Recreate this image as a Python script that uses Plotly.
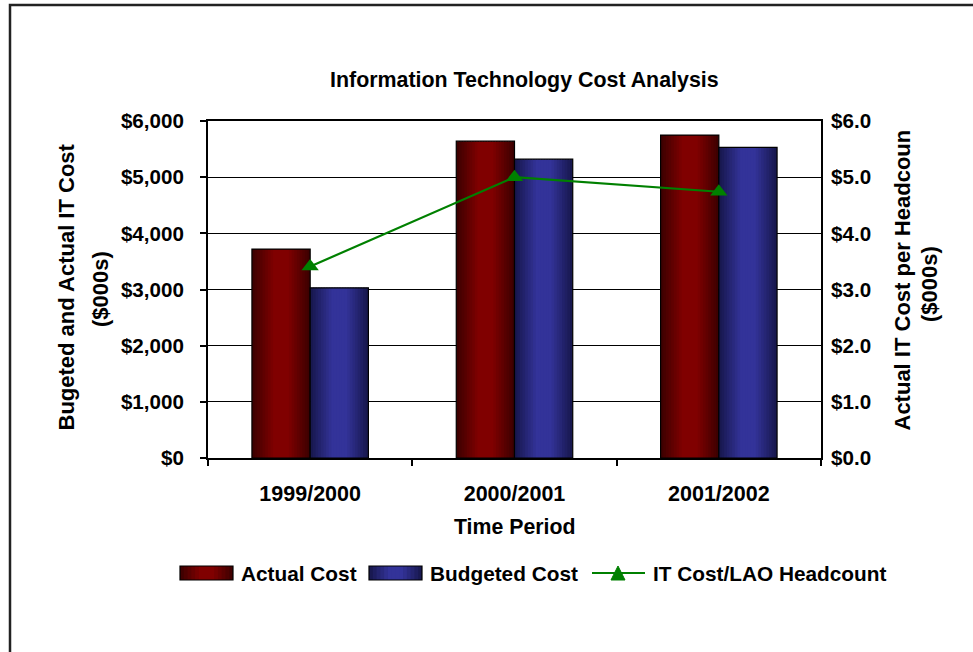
import plotly.graph_objects as go

# ---- data ----
periods = ["1999/2000", "2000/2001", "2001/2002"]
actual_cost = [3720, 5640, 5750]          # $000s
budgeted_cost = [3030, 5320, 5530]        # $000s
cost_per_head = [3.41, 5.0, 4.74]         # $000s per headcount
left_ticks = [0, 1000, 2000, 3000, 4000, 5000, 6000]
left_tick_text = ["$0", "$1,000", "$2,000", "$3,000", "$4,000", "$5,000", "$6,000"]
right_ticks = [0, 1, 2, 3, 4, 5, 6]
right_tick_text = ["$0.0", "$1.0", "$2.0", "$3.0", "$4.0", "$5.0", "$6.0"]

# ---- layout geometry (pixels) ----
W, H = 973, 652
ML, MR, MT, MB = 208, 152, 121, 194
PW, PH = W - ML - MR, H - MT - MB
FONT = "Liberation Sans, Arial, sans-serif"
FS = 21


def px(x):
    return (x - ML) / PW


def py(y):
    return (H - MB - y) / PH


def hex_to_rgb(h):
    h = h.lstrip("#")
    return tuple(int(h[i:i + 2], 16) for i in (0, 2, 4))


def shade(dark, bright, t):
    """Cylinder-like shading: dark edges, bright band left of centre."""
    d, b = hex_to_rgb(dark), hex_to_rgb(bright)
    if t < 0.38:
        f = t / 0.38
    elif t < 0.62:
        f = 1.0
    else:
        f = 1.0 - (t - 0.62) / 0.38
    f = max(0.0, min(1.0, f))
    c = [round(d[i] + (b[i] - d[i]) * f) for i in range(3)]
    return "rgb(%d,%d,%d)" % tuple(c)


RED = ("#3a0000", "#800000")
BLUE = ("#16164a", "#333399")
BAR_W = 0.285
N_STRIPS = 22

fig = go.Figure()


def shaded_bars(values, base_offset, colors, name):
    step = BAR_W / N_STRIPS
    for k in range(N_STRIPS):
        t = (k + 0.5) / N_STRIPS
        wdt = step * 1.6 if k < N_STRIPS - 1 else step
        wdt = min(wdt, BAR_W - k * step)
        fig.add_trace(go.Bar(
            x=periods, y=values, offset=base_offset + k * step, width=wdt,
            marker=dict(color=shade(colors[0], colors[1], t), line=dict(width=0)),
            name=name, showlegend=False, hoverinfo="skip"))
    # outline
    fig.add_trace(go.Bar(
        x=periods, y=values, offset=base_offset, width=BAR_W,
        marker=dict(color="rgba(0,0,0,0)", line=dict(color="black", width=1.2)),
        name=name, showlegend=False))


shaded_bars(actual_cost, -BAR_W, RED, "Actual Cost")
shaded_bars(budgeted_cost, 0.0, BLUE, "Budgeted Cost")

fig.add_trace(go.Scatter(
    x=periods, y=cost_per_head, yaxis="y2", mode="lines+markers",
    line=dict(color="#008000", width=2.2),
    marker=dict(symbol="triangle-up", size=15, color="#008000"),
    name="IT Cost/LAO Headcount", showlegend=False))


def bold(size):
    return dict(family=FONT, size=size, color="black", weight="bold")


fig.update_layout(
    width=W, height=H,
    margin=dict(l=ML, r=MR, t=MT, b=MB, pad=0),
    paper_bgcolor="white", plot_bgcolor="white",
    barmode="overlay",
    showlegend=False,
    font=dict(family=FONT, size=FS, color="black"),
    xaxis=dict(
        type="category", tickson="boundaries", ticks="outside", ticklen=6,
        tickwidth=1.5, tickcolor="black", showline=True, linecolor="black",
        linewidth=2, mirror=True, showgrid=False, tickfont=bold(21.5),
        ticklabelstandoff=15),
    yaxis=dict(
        range=[0, 6000], tickvals=left_ticks, ticktext=left_tick_text,
        ticks="outside", ticklen=6, tickwidth=1.5, tickcolor="black",
        showline=True, linecolor="black", linewidth=2, mirror=True,
        showgrid=True, gridcolor="black", gridwidth=1, zeroline=False,
        tickfont=bold(20.6), ticklabelstandoff=12),
    yaxis2=dict(
        range=[0, 6], tickvals=right_ticks, ticktext=right_tick_text,
        overlaying="y", side="right", showgrid=False, zeroline=False,
        showline=False, ticks="", tickfont=bold(20.6), ticklabelstandoff=9),
)

ann = []


def text(x, y, s, size=FS, angle=0, xa="center", ya="middle"):
    ann.append(dict(
        x=px(x), y=py(y), xref="paper", yref="paper", text=s, showarrow=False,
        textangle=angle, xanchor=xa, yanchor=ya, font=bold(size)))


text(524, 80, "Information Technology Cost Analysis", size=21.4)
text(515, 527, "Time Period", size=21.3)
text(66, 433, "Bugeted and Actual IT Cost", size=22, angle=-90, ya="bottom")
text(100, 289, "($000s)", size=22, angle=-90)
text(902, 433, "Actual IT Cost per Headcoun", size=22, angle=-90, ya="bottom")
text(929, 284, "($000s)", size=22, angle=-90)

# legend
LY = 573
text(239, LY, "Actual Cost", size=20.8, xa="left")
text(428, LY, "Budgeted Cost", size=20.8, xa="left")
text(651, LY, "IT Cost/LAO Headcount", size=20.8, xa="left")

shapes = []


def swatch(x0, x1, colors):
    n = 14
    step = (x1 - x0) / n
    for k in range(n):
        t = (k + 0.5) / n
        c = shade(colors[0], colors[1], t)
        shapes.append(dict(
            type="rect", xref="paper", yref="paper",
            x0=px(x0 + k * step), x1=px(min(x1, x0 + (k + 1.5) * step)),
            y0=py(LY + 7), y1=py(LY - 7), fillcolor=c, line=dict(width=0)))
    shapes.append(dict(
        type="rect", xref="paper", yref="paper",
        x0=px(x0), x1=px(x1), y0=py(LY + 7), y1=py(LY - 7),
        fillcolor="rgba(0,0,0,0)", line=dict(color="black", width=1.2)))


swatch(180, 233, RED)
swatch(369, 422, BLUE)
shapes.append(dict(type="line", xref="paper", yref="paper",
                   x0=px(592), x1=px(645), y0=py(LY), y1=py(LY),
                   line=dict(color="#008000", width=2.2)))
tri = "M %f %f L %f %f L %f %f Z" % (px(611), py(LY + 7), px(625), py(LY + 7),
                                     px(618), py(LY - 7))
shapes.append(dict(type="path", xref="paper", yref="paper", path=tri,
                   fillcolor="#008000", line=dict(color="#008000", width=1)))

# chart frame
shapes.append(dict(type="rect", xref="paper", yref="paper",
                   x0=px(10), x1=px(990), y0=py(5), y1=py(670),
                   line=dict(color="#222222", width=2.5),
                   fillcolor="rgba(0,0,0,0)"))

fig.update_layout(annotations=ann, shapes=shapes)
fig.write_html("out.html")
